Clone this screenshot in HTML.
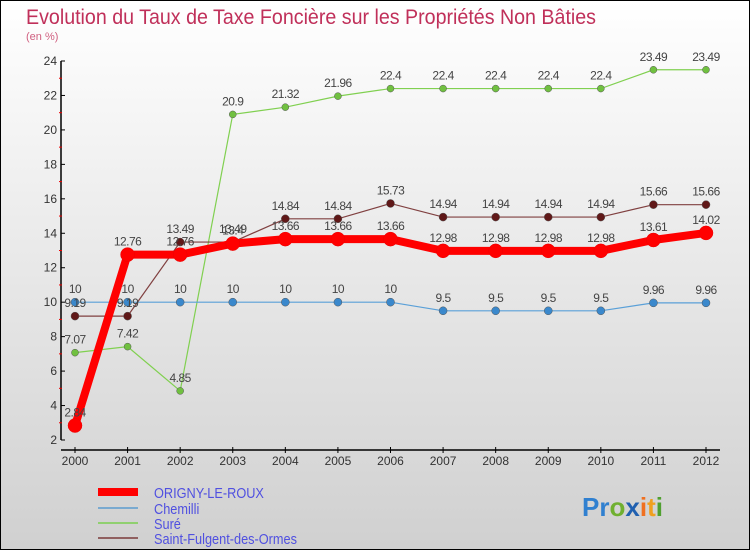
<!DOCTYPE html>
<html><head><meta charset="utf-8"><style>
body{margin:0;width:750px;height:550px;overflow:hidden;font-family:"Liberation Sans",sans-serif}
#wrap{position:absolute;left:0;top:0;width:748px;height:548px;border:1px solid #000;background:linear-gradient(#ffffff,#d0d0d0)}
</style></head><body>
<div id="wrap">
<svg id="chart" width="750" height="550" style="position:absolute;left:-1px;top:-1px">
<text x="26" y="24" font-size="21" fill="#c0305a" textLength="570" lengthAdjust="spacingAndGlyphs">Evolution du Taux de Taxe Foncière sur les Propriétés Non Bâties</text>
<text x="26" y="40" font-size="11" fill="#d06080">(en %)</text>
<g id="axes"></g><g id="series"></g><g id="legend"></g>
<g font-size="26" font-weight="bold">
<text x="582" y="516"><tspan fill="#3080d0">Pr</tspan><tspan fill="#70b030">o</tspan><tspan fill="#2060b0">x</tspan><tspan fill="#f07020">i</tspan><tspan fill="#f0a020">t</tspan><tspan fill="#50a030">i</tspan></text>
</g>
</svg></div>
<script>
const years=[2000,2001,2002,2003,2004,2005,2006,2007,2008,2009,2010,2011,2012];
const origny=[2.84,12.76,12.76,13.4,13.66,13.66,13.66,12.98,12.98,12.98,12.98,13.61,14.02];
const chemilli=[10,10,10,10,10,10,10,9.5,9.5,9.5,9.5,9.96,9.96];
const sure=[7.07,7.42,4.85,20.9,21.32,21.96,22.4,22.4,22.4,22.4,22.4,23.49,23.49];
const saintFulgent=[9.19,9.19,13.49,13.49,14.84,14.84,15.73,14.94,14.94,14.94,14.94,15.66,15.66];
const yTicks=[2,4,6,8,10,12,14,16,18,20,22,24];
const names=["ORIGNY-LE-ROUX","Chemilli","Suré","Saint-Fulgent-des-Ormes"];
const NS="http://www.w3.org/2000/svg";
const X=i=>75+i*(706-75)/12;
const Y=v=>440-(v-2)*(379/22);
function mk(t,a,p){const e=document.createElementNS(NS,t);for(const k in a)e.setAttribute(k,a[k]);p.appendChild(e);return e;}
const ax=document.getElementById('axes');
let l=mk('line',{x1:61,y1:Y(24),x2:61,y2:Y(2),stroke:'#000','stroke-width':1.5},ax);


l=mk('line',{x1:61,y1:450,x2:720,y2:450,stroke:'#000','stroke-width':1.5},ax);


yTicks.forEach(v=>{mk('line',{x1:61,y1:Y(v),x2:65,y2:Y(v),stroke:'#000'},ax);
if(v<24)mk('line',{x1:59,y1:Y(v+1),x2:62,y2:Y(v+1),stroke:'#e00'},ax);
const t=mk('text',{x:57,y:Y(v)+4,'text-anchor':'end','font-size':12,fill:'#333'},ax);t.textContent=v;

});
years.forEach((y,i)=>{mk('line',{x1:X(i),y1:447,x2:X(i),y2:453,stroke:'#000'},ax);
const t=mk('text',{x:X(i),y:465,'text-anchor':'middle','font-size':12,fill:'#333'},ax);t.textContent=y;

});
const sg=document.getElementById('series');
const specs=[[sure,'#80d050','#70c040',1.2,3.5],[chemilli,'#5aa0d8','#3a88cc',1.2,4],[saintFulgent,'#804040','#601818',1.2,4],[origny,'#ff0000','#ff0000',8,7]];
const nmap=['sure','chemilli','saint-fulgent','origny'];
specs.forEach(([d,c,pc,w,r],si)=>{const g=mk('g',{},sg);


mk('polyline',{points:d.map((v,i)=>X(i)+','+Y(v)).join(' '),fill:'none',stroke:c,'stroke-width':w},g);
d.forEach((v,i)=>{const p=mk('circle',{cx:X(i),cy:Y(v),r:r,fill:pc,stroke:si==3?'#e00':'#555','stroke-width':0.5},g);


const t=mk('text',{x:X(i),y:Y(v)-9,'text-anchor':'middle','font-size':12,fill:'#444','letter-spacing':'-0.5'},g);t.textContent=v;

});});
const lg=document.getElementById('legend');
const lc=['#ff0000','#7aaad0','#90d070','#906060'],lw=[8,2,2,2],ly=[492,508,523,538];
names.forEach((n,i)=>{const g=mk('g',{},lg);


mk('line',{x1:98,y1:ly[i],x2:138,y2:ly[i],stroke:lc[i],'stroke-width':lw[i]},g);
const t=mk('text',{x:154,y:ly[i]+6,'font-size':15,fill:'#5050e0',transform:'translate(154,0) scale(0.85,1) translate(-154,0)'},g);t.textContent=n;});
</script>
</body></html>
